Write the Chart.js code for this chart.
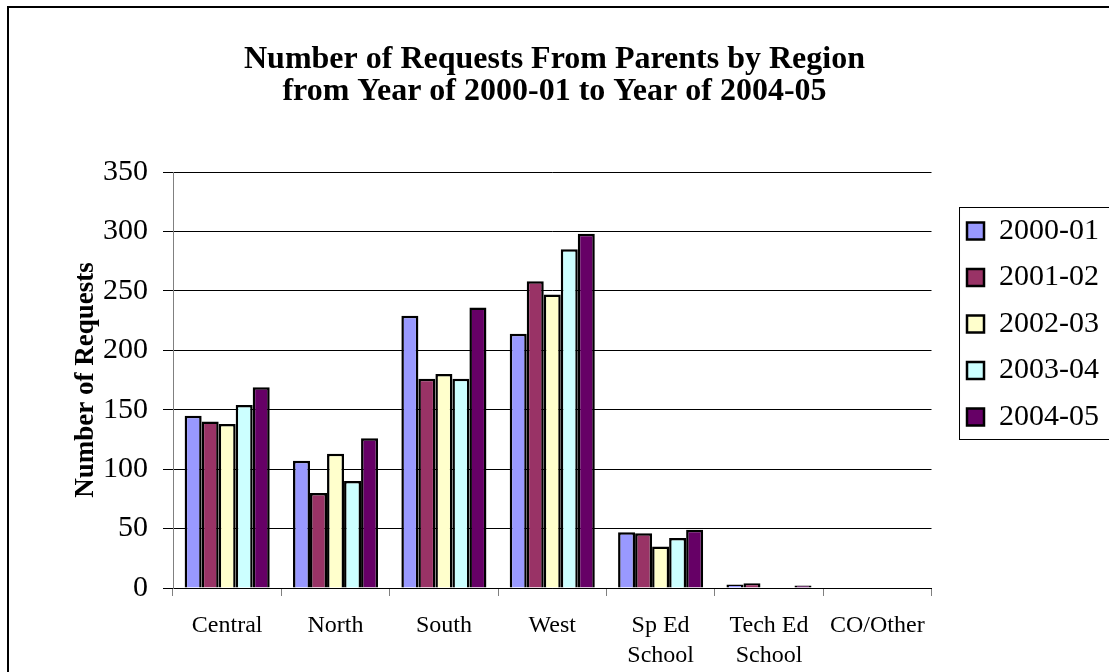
<!DOCTYPE html>
<html>
<head>
<meta charset="utf-8">
<script src="https://cdn.jsdelivr.net/npm/chart.js@4"></script>
<style>
  html, body { margin: 0; padding: 0; background: #fff; }
  #wrap { width: 1109px; height: 672px; }
</style>
</head>
<body>
<div id="wrap"><canvas id="grafica" width="1109" height="672"></canvas></div>
<script>
const regiones = ["Central", "North", "South", "West", ["Sp Ed", "School"], ["Tech Ed", "School"], "CO/Other"];
const anios = ["2000-01", "2001-02", "2002-03", "2003-04", "2004-05"];
const colores = ["#9999FF", "#993366", "#FFFFCC", "#CCFFFF", "#660066"];

const valores2000 = [145, 107, 229, 214, 47, 3, 0];
const valores2001 = [140, 80, 176, 258, 46, 4, 0];
const valores2002 = [138, 113, 180, 247, 35, 0, 0];
const valores2003 = [154, 90, 176, 285, 42, 0, 0];
const valores2004 = [169, 126, 236, 298, 49, 2, 0];

const tituloLineas = ["Number of Requests From Parents by Region", "from Year of 2000-01 to Year of 2004-05"];
const tituloEjeY = "Number of Requests";

const fuente = "'Liberation Serif', 'Times New Roman', serif";
const series = [valores2000, valores2001, valores2002, valores2003, valores2004];

Chart.defaults.font.family = fuente;
Chart.defaults.color = "#000";

const marcoPlugin = {
  id: "marco",
  afterLayout: (chart) => {
    // la leyenda se centra un poco por encima del centro del lienzo
    chart.legend.bottom = 648;
    chart.legend.height = chart.legend.bottom - chart.legend.top;
  },
  beforeDraw: (chart) => {
    const ctx = chart.ctx;
    ctx.save();
    ctx.fillStyle = "#fff";
    ctx.fillRect(0, 0, chart.width, chart.height);
    ctx.strokeStyle = "#000";
    ctx.lineWidth = 2;
    ctx.strokeRect(8, 7, 1300, 900);
    ctx.restore();
  },
  afterDraw: (chart) => {
    // caja alrededor de la leyenda
    const cajas = chart.legend.legendHitBoxes;
    if (!cajas || !cajas.length) return;
    const ctx = chart.ctx;
    const x = cajas[0].left - 8;
    const y = cajas[0].top - 9;
    const ultimo = cajas[cajas.length - 1];
    const h = ultimo.top + ultimo.height + 7 - y;
    ctx.save();
    ctx.strokeStyle = "#000";
    ctx.lineWidth = 1;
    ctx.strokeRect(x + 0.5, y + 0.5, 400, h);
    ctx.restore();
  }
};

const config = {
  type: "bar",
  data: {
    labels: regiones,
    datasets: anios.map((anio, i) => ({
      label: anio,
      data: series[i],
      backgroundColor: colores[i],
      borderColor: "#000",
      borderWidth: 2.5,
      categoryPercentage: 0.785,
      barPercentage: 1,
      yAxisID: "y"
    }))
  },
  options: {
    responsive: false,
    animation: false,
    layout: { padding: { top: 0, left: 0, right: 0, bottom: 0 } },
    plugins: {
      tooltip: { enabled: false },
      title: {
        display: true,
        text: tituloLineas,
        color: "#000",
        font: { family: fuente, size: 32, weight: "bold", lineHeight: 1.0 },
        padding: { top: 44, bottom: 64 }
      },
      legend: {
        position: "right",
        maxWidth: 159,
        labels: {
          color: "#000",
          font: { family: fuente, size: 30, weight: "normal" },
          boxWidth: 17,
          boxHeight: 17,
          padding: 16.5
        }
      }
    },
    scales: {
      x: {
        offset: true,
        grid: { drawOnChartArea: false, drawTicks: true, tickLength: 8, offset: true, color: "#808080" },
        border: { color: "#000", width: 1 },
        ticks: {
          color: "#000",
          font: { family: fuente, size: 24, lineHeight: 1.25 },
          padding: 15,
          maxRotation: 0,
          autoSkip: false
        },
        afterFit: (scale) => { scale.height = 84; }
      },
      y: {
        min: 0,
        max: 350,
        grid: { color: "#000", lineWidth: 1, tickLength: 10 },
        border: { color: "#808080", width: 1 },
        ticks: {
          stepSize: 50,
          color: "#000",
          font: { family: fuente, size: 30 },
          padding: 15
        },
        title: {
          display: true,
          text: tituloEjeY,
          color: "#000",
          font: { family: fuente, size: 27, weight: "bold" },
          padding: { top: 70, bottom: 0 }
        },
        afterFit: (scale) => { scale.width = 173; }
      },
      hueco: {
        position: "right",
        display: true,
        grid: { display: false },
        border: { display: false },
        ticks: { display: false },
        afterFit: (scale) => { scale.width = 19; }
      }
    }
  },
  plugins: [marcoPlugin]
};

const graficaDOM = document.getElementById("grafica");
const miGrafica = new Chart(graficaDOM, config);
</script>
</body>
</html>
